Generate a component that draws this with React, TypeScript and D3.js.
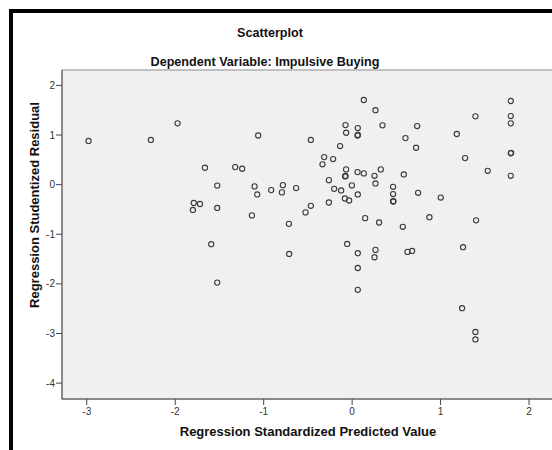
import React from 'react';
import * as d3 from 'd3';

// regression standardized predicted value (x) / studentized residual (y)
const predicted = [
	-2.98, -2.275, -1.973, -1.664, -1.525, -1.79, -1.72, -1.8, -1.525,
	0.132, 0.264, 0.343, -0.075, -0.068, 0.064, 0.061, 0.065, -1.062, -0.467,
	-0.136, -0.316, -0.215, -0.335, -1.322, -1.243, -0.068, -0.079, -0.075,
	0.061, 0.132, 0.324, 0.253, 0.264, -0.263, -0.003, -0.203, -0.124, -0.082,
	-0.034, 0.064, -0.263, -1.103, -1.073, -0.915, -0.783, -0.794, -0.633,
	-0.467, -0.527, -1.133, -0.715, 0.147, 0.305, 1.793, 1.394, 1.793, 1.793,
	0.735, 0.603, 1.183, 0.723, 1.277, 1.793, 1.797, 1.533, 1.793, 0.584,
	0.463, 0.463, 0.463, 0.467, 0.746, 1.002, 0.874, 1.401, 0.573, -1.593,
	-1.525, -0.712, -0.056, 0.064, 0.264, 0.253, 0.064, 0.064, 1.254, 0.626,
	0.678, 1.243, 1.394, 1.394,
];
const residual = [
	0.88, 0.9, 1.235, 0.34, -0.02, -0.37, -0.39, -0.51, -0.47,
	1.705, 1.5, 1.195, 1.2, 1.045, 1.14, 0.99, 1.0, 0.99, 0.9,
	0.777, 0.555, 0.515, 0.41, 0.353, 0.32, 0.307, 0.165, 0.175,
	0.252, 0.226, 0.307, 0.178, 0.024, 0.09, -0.016, -0.085, -0.117, -0.28,
	-0.32, -0.198, -0.36, -0.036, -0.198, -0.11, -0.01, -0.157, -0.07,
	-0.427, -0.56, -0.62, -0.79, -0.676, -0.763, 1.685, 1.376, 1.382, 1.235,
	1.18, 0.938, 1.02, 0.743, 0.535, 0.63, 0.64, 0.279, 0.178, 0.205,
	-0.044, -0.19, -0.34, -0.335, -0.165, -0.26, -0.656, -0.72, -0.85, -1.2,
	-1.974, -1.397, -1.195, -1.383, -1.315, -1.463, -1.68, -2.12, -1.261, -1.356,
	-1.336, -2.49, -2.97, -3.12,
];
const xTicks = [-3, -2, -1, 0, 1, 2];
const yTicks = [2, 1, 0, -1, -2, -3, -4];

const W = 552;
const H = 450;
const plot = { left: 62, top: 70, right: 560, bottom: 399 };
const font = '"Liberation Sans", Arial, sans-serif';

const App = () => {
	const x = d3.scaleLinear().domain([-3.28, 2.35])
		.range([plot.left, plot.right]);
	const y = d3.scaleLinear().domain([-4.32, 2.31])
		.range([plot.bottom, plot.top]);
	const points = d3.zip(predicted, residual);

	return (
		<svg width={W} height={H} style={{ position: 'absolute', left: 0, top: 0, background: '#fff' }}
			fontFamily={font}>
			<rect x={11} y={11} width={W + 20} height={H + 20} fill="#fff" stroke="#000" strokeWidth={4}/>
			<text x={270} y={36.5} textAnchor="middle" fontSize={12.6} fontWeight="bold" fill="#111">Scatterplot</text>
			<text x={265} y={65.5} textAnchor="middle" fontSize={12.6} fontWeight="bold" fill="#111">
				Dependent Variable: Impulsive Buying</text>
			<rect x={plot.left} y={plot.top} width={plot.right - plot.left} height={plot.bottom - plot.top}
				fill="#f0f0f0" stroke="#8a8a8a" strokeWidth={1}/>
			<line x1={plot.left} x2={plot.left} y1={plot.top} y2={plot.bottom} stroke="#555"/>
			<line x1={plot.left} x2={plot.right} y1={plot.bottom} y2={plot.bottom} stroke="#555"/>
			{yTicks.map((t) => (
				<g key={`y${ t }`}>
					<line x1={plot.left - 6} x2={plot.left} y1={y(t)} y2={y(t)} stroke="#444"/>
					<text x={plot.left - 7} y={y(t) + 3.5} textAnchor="end" fontSize={10} fill="#333">{t}</text>
				</g>
			))}
			{xTicks.map((t) => (
				<g key={`x${ t }`}>
					<line x1={x(t)} x2={x(t)} y1={plot.bottom} y2={plot.bottom + 6} stroke="#444"/>
					<text x={x(t)} y={plot.bottom + 16} textAnchor="middle" fontSize={10} fill="#333">{t}</text>
				</g>
			))}
			{points.map(([px, py], i) => (
				<circle key={i} cx={x(px)} cy={y(py)} r={2.6} fill="none" stroke="#3a3a3a" strokeWidth={1.1}/>
			))}
			<text x={308} y={436} textAnchor="middle" fontSize={13} fontWeight="bold" fill="#111">
				Regression Standardized Predicted Value</text>
			<text transform={`translate(39, ${ 205 }) rotate(-90)`} textAnchor="middle" fontSize={13}
				fontWeight="bold" fill="#111">Regression Studentized Residual</text>
		</svg>
	);
};

export default App;
